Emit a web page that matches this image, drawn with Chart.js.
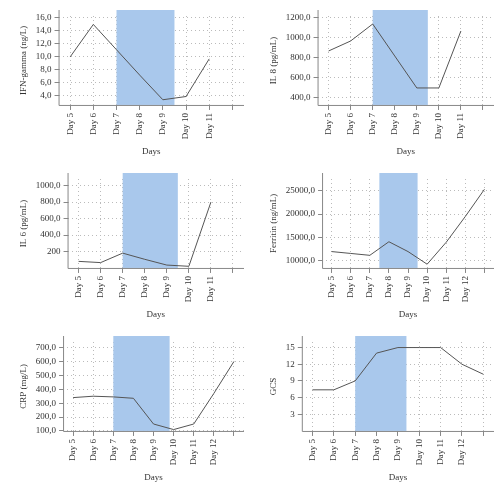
<!DOCTYPE html>
<html><head>
<script src="https://cdn.jsdelivr.net/npm/chart.js@4"></script>
<style>
body{margin:0;background:#fff;width:500px;height:489px;position:relative}
.p{position:absolute;width:250px;height:163px}
</style></head><body>
<div class="p" style="left:0;top:0"><canvas id="c1"></canvas></div>
<div class="p" style="left:250px;top:0"><canvas id="c2"></canvas></div>
<div class="p" style="left:0;top:163px"><canvas id="c3"></canvas></div>
<div class="p" style="left:250px;top:163px"><canvas id="c4"></canvas></div>
<div class="p" style="left:0;top:326px"><canvas id="c5"></canvas></div>
<div class="p" style="left:250px;top:326px"><canvas id="c6"></canvas></div>
<script>
"use strict";
var days7 = ['Day 5','Day 6','Day 7','Day 8','Day 9','Day 10','Day 11',''];
var days9 = ['Day 5','Day 6','Day 7','Day 8','Day 9','Day 10','Day 11','Day 12',''];
var ifnValues = [9.9, 14.9, 11.0, 7.1, 3.3, 3.8, 9.6];
var il8Values = [870, 970, 1140, 820, 500, 500, 1070];
var il6Values = [80, 65, 180, 105, 35, 20, 800];
var ferritinValues = [12000, 11600, 11200, 14100, 12000, 9300, 14000, 19500, 25300];
var crpValues = [340, 350, 345, 335, 150, 110, 150, 370, 600];
var gcsValues = [7.4, 7.4, 9.0, 14.0, 15.0, 15.0, 15.0, 12.0, 10.2];
var ifnTicks = [4, 6, 8, 10, 12, 14, 16];
var il8Ticks = [400, 600, 800, 1000, 1200];
var il6Ticks = [200, 400, 600, 800, 1000];
var ferritinTicks = [10000, 15000, 20000, 25000];
var crpTicks = [100, 200, 300, 400, 500, 600, 700];
var gcsTicks = [3, 6, 9, 12, 15];
var shades = [[2, 4.5], [2, 4.5], [2, 4.5], [2.5, 4.5], [2, 4.8], [2, 4.4]];

function fmt(v){ return v.toFixed(1).replace('.', ','); }

function makeChart(id, labels, values, ytitle, ymin, ymax, tickList, shade, tickFmt) {
    var shadePlugin = {
        id: 'shade' + id,
        beforeDatasetsDraw: function (chart) {
            var x = chart.scales.x, a = chart.chartArea, ctx = chart.ctx;
            ctx.save();
            ctx.fillStyle = '#a9c8ec';
            var x0 = x.getPixelForValue(shade[0]), x1 = x.getPixelForValue(shade[1]);
            ctx.fillRect(x0, a.top - 6, x1 - x0, a.bottom - a.top + 6);
            ctx.restore();
        },
        afterDatasetsDraw: function (chart) {
            var a = chart.chartArea, ctx = chart.ctx;
            ctx.save();
            ctx.strokeStyle = '#888';
            ctx.lineWidth = 1;
            ctx.beginPath();
            ctx.moveTo(a.left + 0.5, a.top - 6);
            ctx.lineTo(a.left + 0.5, a.bottom + 0.5);
            ctx.lineTo(a.right, a.bottom + 0.5);
            ctx.stroke();
            ctx.restore();
        }
    };
    new Chart(document.getElementById(id), {
        type: 'line',
        data: { labels: labels, datasets: [{ data: values, borderColor: '#555', borderWidth: 1, pointRadius: 0, tension: 0 }] },
        options: {
            responsive: true, maintainAspectRatio: false, animation: false,
            layout: { padding: { top: 16, right: 6, bottom: 2, left: 14 } },
            plugins: { legend: { display: false }, tooltip: { enabled: false } },
            scales: {
                x: {
                    offset: true,
                    grid: { color: '#bbb', tickLength: 5, tickColor: '#888', offset: false },
                    border: { display: false, dash: [1, 3] },
                    ticks: { maxRotation: 90, minRotation: 90, color: '#333', font: { family: 'Liberation Serif', size: 9 } },
                    title: { display: true, text: 'Days', color: '#333', font: { family: 'Liberation Serif', size: 9 } }
                },
                y: {
                    min: ymin, max: ymax,
                    afterBuildTicks: function (s) { s.ticks = tickList.map(function (v) { return { value: v }; }); },
                    grid: { color: '#bbb', tickLength: 4, tickColor: '#888' },
                    border: { display: false, dash: [1, 3] },
                    ticks: { color: '#333', font: { family: 'Liberation Serif', size: 9 },
                        callback: function (v) { return tickFmt(v); } },
                    title: { display: true, text: ytitle, color: '#333', font: { family: 'Liberation Serif', size: 9 } }
                }
            }
        },
        plugins: [shadePlugin]
    });
}

makeChart('c1', days7, ifnValues, 'IFN-gamma (ng/L)', 2.5, 16.2, ifnTicks, shades[0], fmt);
makeChart('c2', days7, il8Values, 'IL 8 (pg/mL)', 330, 1220, il8Ticks, shades[1], fmt);
makeChart('c3', days7, il6Values, 'IL 6 (pg/mL)', 0, 1080, il6Ticks, shades[2], function (v) { return v === 200 ? '200' : fmt(v); });
makeChart('c4', days9, ferritinValues, 'Ferritin (ng/mL)', 8500, 27500, ferritinTicks, shades[3], fmt);
makeChart('c5', days9, crpValues, 'CRP (mg/L)', 100, 740, crpTicks, shades[4], fmt);
makeChart('c6', days9, gcsValues, 'GCS', 0, 16, gcsTicks, shades[5], String);
</script>
</body></html>
